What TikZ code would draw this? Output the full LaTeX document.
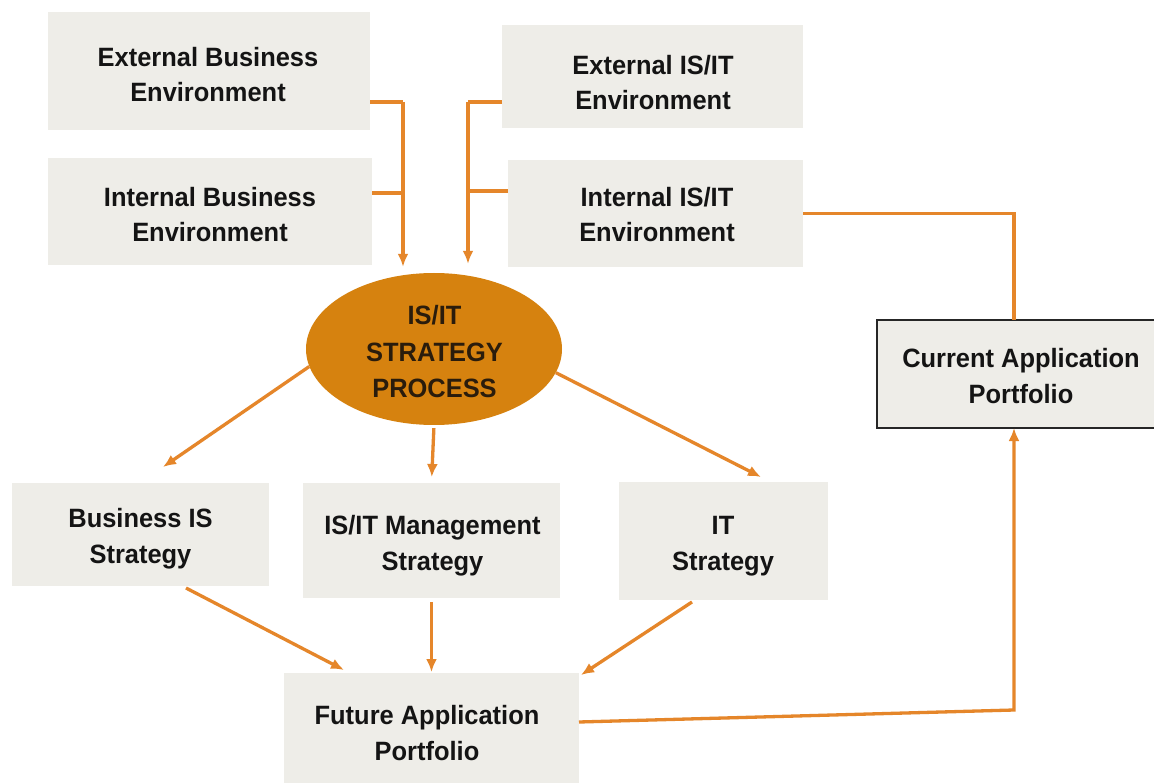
\documentclass[tikz,border=0pt]{standalone}
\usepackage{fontspec}
\setmainfont{Liberation Sans}[FakeStretch=0.96]
\usetikzlibrary{shapes.geometric,arrows.meta}
\definecolor{panelfill}{HTML}{EEEDE8}
\definecolor{flow}{HTML}{E5862A}
\definecolor{corefill}{HTML}{D6820F}
\definecolor{ink}{HTML}{141414}
\definecolor{coreink}{HTML}{2A1C0C}
\begin{document}
\begin{tikzpicture}[x=1pt,y=-1pt,
  panel/.style={fill=panelfill, draw=none, inner sep=0pt, outer sep=0pt},
  % text blocks are placed by the baseline of their last line
  words/.style={anchor=base, inner sep=0pt, align=center, text=ink,
    font=\fontsize{26.5}{35.5}\selectfont\bfseries},
  link/.style={draw=flow, line width=3.3pt},
  arr/.style={link, -{Latex[length=13pt,width=11pt]}}]
\useasboundingbox (0,0) rectangle (1154,783);
\fill[white] (0,0) rectangle (1154,783);

% environment boxes
\node[panel, minimum width=322, minimum height=118] (eb) at (209,71) {};
\node[words] (ebt) at (208,102) {External Business\\Environment};
\node[panel, minimum width=324, minimum height=107] (ib) at (210,211.5) {};
\node[words] (ibt) at (210,242) {Internal Business\\Environment};
\node[panel, minimum width=301, minimum height=103] (ei) at (652.5,76.5) {};
\node[words] (eit) at (653,110) {External IS/IT\\Environment};
\node[panel, minimum width=295, minimum height=107] (ii) at (655.5,213.5) {};
\node[words] (iit) at (657,242) {Internal IS/IT\\Environment};

% central process
\node[ellipse, fill=corefill, inner sep=0pt, minimum width=256, minimum height=152] (core) at (434,349) {};
\node[words, text=coreink, font=\fontsize{26.5}{36.5}\selectfont\bfseries] (coret) at (434.5,398) {IS/IT\\STRATEGY\\PROCESS};

% strategies
\node[panel, minimum width=257, minimum height=103] (bis) at (140.5,534.5) {};
\node[words] (bist) at (140.5,563) {Business IS\\Strategy};
\node[panel, minimum width=257, minimum height=115] (mgmt) at (431.5,540.5) {};
\node[words] (mgmtt) at (432.5,570) {IS/IT Management\\Strategy};
\node[panel, minimum width=209, minimum height=118] (it) at (723.5,541) {};
\node[words] (itt) at (723,570) {IT\\Strategy};

% portfolios
\node[panel, minimum width=295, minimum height=122] (fut) at (431.5,734) {};
\node[words] (futt) at (427,760) {Future Application\\Portfolio};
\node[panel, draw=black!85, line width=1.5pt, minimum width=289, minimum height=108] (cur) at (1021.5,374) {};
\node[words] (curt) at (1021,403) {Current Application\\Portfolio};

% junctions
\coordinate (jl1) at (403,102);
\coordinate (jl2) at (403,193);
\coordinate (jr1) at (468,102);
\coordinate (jr2) at (468,191);
\coordinate (cj) at (1014,213);
\coordinate (fl) at (581,722);
\coordinate (fc) at (1014,710);

% inputs to the process
\draw[link] (eb.east |- jl1) -- (jl1);
\draw[link] (ib.east |- jl2) -- (jl2);
\draw[arr, shorten >=6pt] (jl1) -- (jl1 |- core.north);
\draw[link] (ei.west |- jr1) -- (jr1);
\draw[link] (ii.west |- jr2) -- (jr2);
\draw[arr, shorten >=9pt] (jr1) -- (jr1 |- core.north);

% process outputs
\draw[arr] (core.188) -- ([xshift=22.5pt,yshift=16pt]bis.north);
\draw[arr, shorten <=3pt, shorten >=6pt] (core.south) -- (mgmt.north);
\draw[arr] (core.-11) -- ([xshift=37.5pt,yshift=5pt]it.north);

% strategies to future portfolio
\draw[arr] ([xshift=45.5pt,yshift=-2pt]bis.south) -- ([xshift=-87.5pt,yshift=3pt]fut.north);
\draw[arr, shorten <=4pt, shorten >=1pt] (mgmt.south) -- (mgmt.south |- fut.north);
\draw[arr] ([xshift=-31.5pt,yshift=-2pt]it.south) -- ([xshift=2pt,yshift=-2pt]fut.north east);

% current portfolio links
\draw[link] (ii.east) -- (ii.east -| cj) -- (cj |- cur.north);
\draw[arr] (fut.east |- fl) -- (fc) -- (fc |- cur.south);
\end{tikzpicture}
\end{document}
